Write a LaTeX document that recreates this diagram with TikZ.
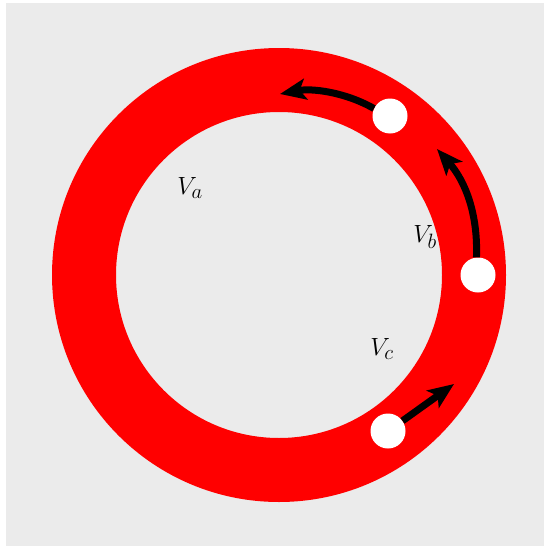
\documentclass[tikz,border=0pt]{standalone}
\usetikzlibrary{arrows.meta}
\definecolor{bg}{HTML}{EBEBEB}
\begin{document}
\begin{tikzpicture}[x=1pt,y=-1pt,
  dot/.style={circle,fill=white,draw=none,minimum size=35pt,inner sep=0pt},
  lbl/.style={inner sep=0pt,font=\fontsize{28}{32}\selectfont},
  flow/.style={line width=7pt,-{Stealth[length=26pt,width=21pt,inset=6pt]}}]
\useasboundingbox (0,0) rectangle (544,546);
\fill[bg] (6,3) rectangle (544,546);
\coordinate (c) at (279,275);
\fill[red,even odd rule] (c) circle (227) (c) circle (163);
\node[dot] (d1) at (390,116) {};
\node[dot] (d2) at (478,275) {};
\node[dot] (d3) at (388,431) {};
\coordinate (a1) at (280,94);
\coordinate (b1) at (437,149);
\coordinate (c1) at (454,384);
\draw[flow] (d1.155) .. controls (345,92) and (312,88) .. (a1);
\draw[flow] (d2.95) .. controls (478,215) and (466,182) .. (b1);
\draw[flow] (d3.35) -- (c1);
\node[lbl] (va) at (190,188) {$V_a$};
\node[lbl] (vb) at (425,237) {$V_b$};
\node[lbl] (vc) at (382,349) {$V_c$};
\end{tikzpicture}
\end{document}
